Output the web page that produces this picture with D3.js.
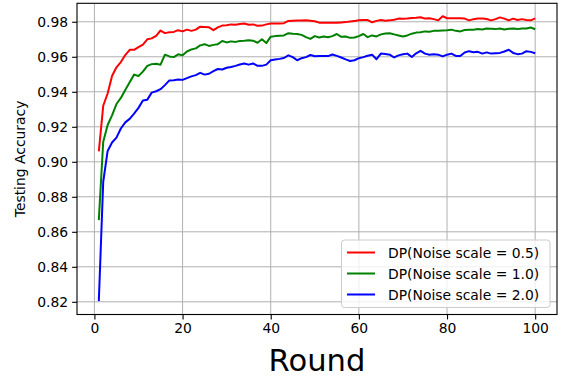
<!DOCTYPE html>
<html><head><meta charset="utf-8">
<script src="https://cdn.jsdelivr.net/npm/d3@7"></script>
<style>
body{margin:0;background:#fff;}
text{font-family:"DejaVu Sans",sans-serif;fill:#000;}
</style></head>
<body><svg id="c" width="566" height="378"></svg>
<script>
const rounds = d3.range(1, 101);
const seriesNames = ["DP(Noise scale = 0.5)", "DP(Noise scale = 1.0)", "DP(Noise scale = 2.0)"];
const seriesColors = ["#ff0000", "#008000", "#0000ff"];
const xTicks = [0, 20, 40, 60, 80, 100];
const yTicks = [0.82, 0.84, 0.86, 0.88, 0.90, 0.92, 0.94, 0.96, 0.98];
const noise05 = [0.906,0.932,0.939,0.949,0.954,0.957,0.961,0.964,0.964,0.9655,
0.967,0.970,0.9705,0.972,0.975,0.9735,0.974,0.9742,0.9752,0.9745,
0.9755,0.9748,0.9755,0.9772,0.977,0.9768,0.9752,0.9768,0.9778,0.978,
0.9785,0.9783,0.9787,0.979,0.9783,0.9785,0.9777,0.9778,0.9785,0.979,
0.979,0.979,0.9792,0.9805,0.9806,0.9807,0.9807,0.9808,0.9806,0.9803,
0.9795,0.9794,0.9795,0.9794,0.9794,0.9796,0.9798,0.9802,0.9805,0.9808,
0.981,0.981,0.9797,0.9805,0.981,0.9806,0.9808,0.9812,0.9818,0.9817,
0.9819,0.9822,0.9823,0.9826,0.9818,0.982,0.9815,0.9808,0.9832,0.982,
0.982,0.982,0.982,0.9818,0.9808,0.9815,0.9818,0.9818,0.9816,0.9808,
0.9815,0.9825,0.9818,0.9808,0.9818,0.981,0.9815,0.981,0.9808,0.9819];
const noise10 = [0.8667,0.9115,0.921,0.9265,0.933,0.9365,0.941,0.9455,0.9498,0.949,
0.9515,0.9548,0.9558,0.956,0.9555,0.9612,0.9602,0.9598,0.9614,0.9608,
0.963,0.9642,0.9648,0.9665,0.9672,0.9662,0.9668,0.9672,0.969,0.9682,
0.9688,0.9685,0.969,0.9692,0.9695,0.9692,0.968,0.97,0.9678,0.9715,
0.9718,0.972,0.9722,0.9735,0.9732,0.973,0.9725,0.9712,0.9702,0.9718,
0.971,0.9716,0.9712,0.9718,0.973,0.9714,0.9716,0.9708,0.971,0.9718,
0.973,0.9712,0.9722,0.9716,0.9728,0.9733,0.9734,0.9728,0.9722,0.9716,
0.9722,0.9732,0.9738,0.974,0.9745,0.9743,0.9748,0.9748,0.975,0.9752,
0.9755,0.9748,0.9745,0.9753,0.9754,0.9755,0.9758,0.9756,0.9762,0.976,
0.9758,0.9762,0.9756,0.976,0.9761,0.9758,0.9762,0.9762,0.9767,0.9757];
const noise20 = [0.8204,0.8886,0.9062,0.911,0.9138,0.919,0.9225,0.9245,0.9275,0.9308,
0.935,0.9355,0.9395,0.9403,0.9415,0.9438,0.9465,0.9466,0.947,0.9468,
0.9478,0.9488,0.9495,0.9508,0.9498,0.9503,0.9518,0.953,0.9527,0.9537,
0.9542,0.9548,0.9556,0.9562,0.9555,0.9562,0.9548,0.9548,0.9555,0.958,
0.9584,0.9588,0.9593,0.9608,0.9598,0.958,0.9592,0.9598,0.961,0.9603,
0.9604,0.9605,0.9604,0.9613,0.9605,0.9596,0.9585,0.9576,0.958,0.9592,
0.9598,0.9606,0.9612,0.9586,0.9618,0.9616,0.9612,0.9596,0.9608,0.9614,
0.9618,0.9599,0.962,0.9634,0.9618,0.9612,0.9614,0.9612,0.9602,0.9612,
0.9618,0.9605,0.9604,0.9624,0.9632,0.9626,0.9628,0.9618,0.9625,0.9618,
0.962,0.9622,0.963,0.964,0.9622,0.9615,0.9618,0.9632,0.9628,0.962];
const allSeries = [noise05, noise10, noise20];

const svg = d3.select("#c");
const L = 77, R = 557, T = 3.3, B = 314.5;
const x = d3.scaleLinear().domain([-3.95, 104.95]).range([L, R]);
const y = d3.scaleLinear().domain([0.81275, 0.99055]).range([B, T]);

// grid
const g = svg.append("g");
g.selectAll(".vg").data(xTicks).enter().append("line")
  .attr("x1", d => x(d)).attr("x2", d => x(d)).attr("y1", T).attr("y2", B)
  .attr("stroke", "#b0b0b0").attr("stroke-width", 1);
g.selectAll(".hg").data(yTicks).enter().append("line")
  .attr("x1", L).attr("x2", R).attr("y1", d => y(d)).attr("y2", d => y(d))
  .attr("stroke", "#b0b0b0").attr("stroke-width", 1);

// lines
const line = d3.line().x((d, i) => x(rounds[i])).y(d => y(d));
allSeries.forEach((s, k) => {
  svg.append("path").datum(s).attr("d", line).attr("fill", "none")
    .attr("stroke", seriesColors[k]).attr("stroke-width", 2).attr("stroke-linejoin", "round");
});

// axes
const xAxis = d3.axisBottom(x).tickValues(xTicks).tickSize(4.9).tickPadding(4).tickFormat(d3.format("d"));
const yAxis = d3.axisLeft(y).tickValues(yTicks).tickSize(4.9).tickPadding(4).tickFormat(d3.format(".2f"));
const xa = svg.append("g").attr("transform", `translate(0,${B})`).call(xAxis);
const ya = svg.append("g").attr("transform", `translate(${L},0)`).call(yAxis);
[xa, ya].forEach(a => {
  a.select(".domain").remove();
  a.selectAll("line").attr("stroke", "#000").attr("stroke-width", 1.1);
  a.selectAll("text").style("font-family", "DejaVu Sans").style("font-size", "13.9px").attr("fill", "#000");
});
svg.append("rect").attr("x", L).attr("y", T).attr("width", R - L).attr("height", B - T)
  .attr("fill", "none").attr("stroke", "#000").attr("stroke-width", 1.1);

// labels
svg.append("text").attr("x", (L + R) / 2).attr("y", 371).attr("text-anchor", "middle")
  .style("font-size", "30.6px").text("Round");
svg.append("text").attr("transform", `translate(25,${(T + B) / 2}) rotate(-90)`)
  .attr("text-anchor", "middle").style("font-size", "13.9px").text("Testing Accuracy");

// legend
const lg = svg.append("g");
lg.append("rect").attr("x", 341.5).attr("y", 240).attr("width", 208.5).attr("height", 67.5)
  .attr("rx", 3).attr("fill", "#fff").attr("fill-opacity", 0.8).attr("stroke", "#cccccc").attr("stroke-width", 1);
seriesNames.forEach((n, k) => {
  const yy = 252.5 + k * 21;
  lg.append("line").attr("x1", 347).attr("x2", 375).attr("y1", yy).attr("y2", yy)
    .attr("stroke", seriesColors[k]).attr("stroke-width", 2);
  lg.append("text").attr("x", 388).attr("y", yy + 5).style("font-size", "13.9px").text(n);
});
</script></body></html>
